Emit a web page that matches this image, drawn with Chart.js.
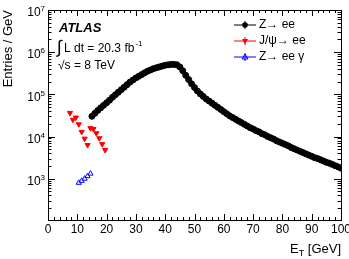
<!DOCTYPE html>
<html>
<head>
<meta charset="utf-8">
<script src="https://cdn.jsdelivr.net/npm/chart.js@4.4.1/dist/chart.umd.min.js"></script>
<style>
  html, body { margin: 0; padding: 0; background: #fff; }
  #wrap { width: 349px; height: 259px; }
</style>
</head>
<body>
<div id="wrap"><canvas id="mychart" width="349" height="259"></canvas></div>
<script>
// Z -> ee, one point per GeV from 15 to 100
const zeeEt = [15,16,17,18,19,20,21,22,23,24,25,26,27,28,29,30,31,32,33,34,35,36,37,38,39,40,
  41,42,43,44,45,46,47,48,49,50,51,52,53,54,55,56,57,58,59,60,61,62,63,64,65,66,67,68,69,70,
  71,72,73,74,75,76,77,78,79,80,81,82,83,84,85,86,87,88,89,90,91,92,93,94,95,96,97,98,99,100];
const zeeVals = [30200,35500,41700,47900,55000,63100,72400,85100,97700,112000,129000,148000,170000,
  195000,219000,245000,269000,295000,324000,355000,380000,407000,427000,447000,468000,490000,
  501000,513000,513000,501000,447000,363000,282000,224000,178000,145000,120000,102000,89100,77600,
  69200,61700,55000,49000,43700,38900,34700,30900,28200,25700,23400,21400,19500,17800,16200,15100,
  13800,12900,11700,11000,10000,9330,8710,7940,7410,6920,6460,6030,5500,5130,4790,4470,4170,3890,
  3630,3390,3160,3020,2820,2630,2450,2340,2190,2040,1910,1780];

// J/psi -> ee (two selections)
const jpsiEt = [7.5,8.5,9.5,10.5,11.5,12.5,13.5, 14.5,15.5,16.5,17.5,18.5,19.5];
const jpsiVals = [36300,25100,28200,19500,12900,8910,6310, 15800,15100,12000,9120,6610,4790];

// Z -> ee gamma
const zeegEt = [10.5,11.5,12.5,13.5,14.5];
const zeegVals = [800,890,1000,1150,1320];

const xMajor = [0,10,20,30,40,50,60,70,80,90,100];
const yMajor = [1e3,1e4,1e5,1e6,1e7];
const yExp = ['3','4','5','6','7'];

const FONT = '"Liberation Sans", Arial, Helvetica, sans-serif';

const pts = (xs, ys) => xs.map((x, i) => ({x: x, y: ys[i]}));

const atlasDecor = {
    id: 'atlasDecor',
    afterDraw: (chart) => {
        const ctx = chart.ctx;
        const a = chart.chartArea;
        const xs = chart.scales.x, ys = chart.scales.y;
        ctx.save();
        ctx.strokeStyle = '#000';
        ctx.lineWidth = 1;

        // frame
        ctx.strokeRect(Math.round(a.left) + 0.5, Math.round(a.top) + 0.5,
            Math.round(a.right - a.left), Math.round(a.bottom - a.top));

        // x ticks (bottom + top), minor every 2
        ctx.beginPath();
        for (let v = 0; v <= 100; v += 2) {
            const px = Math.round(xs.getPixelForValue(v)) + 0.5;
            const len = (v % 10 === 0) ? 6 : 3;
            ctx.moveTo(px, a.bottom); ctx.lineTo(px, a.bottom - len);
            ctx.moveTo(px, a.top); ctx.lineTo(px, a.top + len);
        }
        // y ticks (left + right), log minors
        for (let e = 2; e <= 6; e++) {
            for (let m = 1; m <= 9; m++) {
                const v = m * Math.pow(10, e);
                if (v < ys.min || v > ys.max) continue;
                const py = Math.round(ys.getPixelForValue(v)) + 0.5;
                const len = (m === 1) ? 7 : 3.5;
                ctx.moveTo(a.left, py); ctx.lineTo(a.left + len, py);
                ctx.moveTo(a.right, py); ctx.lineTo(a.right - len, py);
            }
        }
        const pTop = Math.round(ys.getPixelForValue(1e7)) + 0.5;
        ctx.moveTo(a.left, pTop); ctx.lineTo(a.left + 7, pTop);
        ctx.moveTo(a.right, pTop); ctx.lineTo(a.right - 7, pTop);
        ctx.stroke();

        ctx.fillStyle = '#000';
        // x tick labels
        ctx.font = '12px ' + FONT;
        ctx.textAlign = 'center';
        ctx.textBaseline = 'middle';
        xMajor.forEach(v => ctx.fillText(String(v), xs.getPixelForValue(v), a.bottom + 10));

        // y tick labels 10^n
        yMajor.forEach((v, i) => {
            const py = ys.getPixelForValue(v);
            ctx.font = '8px ' + FONT;
            ctx.textAlign = 'right';
            ctx.fillText(yExp[i], a.left - 3, py - 1);
            const ew = ctx.measureText(yExp[i]).width;
            ctx.font = '12px ' + FONT;
            ctx.fillText('10', a.left - 3 - ew, py + 3);
        });

        // axis titles
        ctx.font = '13px ' + FONT;
        ctx.textAlign = 'right';
        ctx.textBaseline = 'alphabetic';
        ctx.fillText('[GeV]', a.right, 253);
        const gw = ctx.measureText(' [GeV]').width;
        ctx.font = '9px ' + FONT;
        ctx.fillText('T', a.right - gw, 256);
        const tw = ctx.measureText('T').width;
        ctx.font = '13px ' + FONT;
        ctx.fillText('E', a.right - gw - tw, 253);

        ctx.save();
        ctx.translate(12, a.top);
        ctx.rotate(-Math.PI / 2);
        ctx.textAlign = 'right';
        ctx.fillText('Entries / GeV', 0, 0);
        ctx.restore();

        // ATLAS label
        ctx.textAlign = 'left';
        ctx.font = 'italic bold 13px ' + FONT;
        ctx.fillText('ATLAS', 59, 32);
        ctx.font = '18px ' + FONT;
        ctx.fillText('\u222B', 57, 53);
        ctx.font = '12px ' + FONT;
        ctx.fillText('L dt = 20.3 fb', 64, 52);
        const lw = ctx.measureText('L dt = 20.3 fb').width;
        ctx.font = '8px ' + FONT;
        ctx.fillText('-1', 64 + lw + 1, 46);
        ctx.font = '12px ' + FONT;
        ctx.fillText('\u221As = 8 TeV', 58, 69);

        // legend
        const leg = [
            {label: 'Z\u2192 ee', color: '#000', style: 'circle', fill: true},
            {label: 'J/\u03C8\u2192 ee', color: '#ff0000', style: 'down', fill: true},
            {label: 'Z\u2192 ee \u03B3', color: '#0000ff', style: 'up', fill: false}
        ];
        leg.forEach((l, i) => {
            const cy = 25 + i * 16;
            const cx = 245;
            ctx.strokeStyle = l.color;
            ctx.fillStyle = l.color;
            ctx.lineWidth = 1;
            ctx.beginPath();
            ctx.moveTo(234, cy); ctx.lineTo(256, cy);
            ctx.moveTo(cx, cy - 4); ctx.lineTo(cx, cy + 4);
            ctx.stroke();
            ctx.beginPath();
            if (l.style === 'circle') {
                ctx.arc(cx, cy, 2.8, 0, Math.PI * 2);
            } else if (l.style === 'down') {
                ctx.moveTo(cx - 3, cy - 2); ctx.lineTo(cx + 3, cy - 2); ctx.lineTo(cx, cy + 3); ctx.closePath();
            } else {
                ctx.moveTo(cx - 3, cy + 2); ctx.lineTo(cx + 3, cy + 2); ctx.lineTo(cx, cy - 3); ctx.closePath();
            }
            if (l.fill) ctx.fill(); else ctx.stroke();
            ctx.fillStyle = '#000';
            ctx.font = '12px ' + FONT;
            ctx.textAlign = 'left';
            ctx.textBaseline = 'middle';
            ctx.fillText(l.label, 259, cy);
        });
        ctx.restore();
    }
};

const bgColor = {
    id: 'bgColor',
    beforeDraw: (chart) => {
        const {ctx, width, height} = chart;
        ctx.save();
        ctx.fillStyle = 'white';
        ctx.fillRect(0, 0, width, height);
        ctx.restore();
    }
};

const options = {
    type: 'scatter',
    data: {
        datasets: [{
            label: 'Z\u2192 ee',
            data: pts(zeeEt, zeeVals),
            backgroundColor: '#000',
            borderColor: '#000',
            pointRadius: 3,
            pointStyle: 'circle'
        }, {
            label: 'J/\u03C8\u2192 ee',
            data: pts(jpsiEt, jpsiVals),
            backgroundColor: '#ff0000',
            borderColor: '#ff0000',
            pointRadius: 3,
            pointStyle: 'triangle',
            rotation: 180
        }, {
            label: 'Z\u2192 ee \u03B3',
            data: pts(zeegEt, zeegVals),
            backgroundColor: 'rgba(0,0,0,0)',
            borderColor: '#0000ff',
            borderWidth: 1,
            pointRadius: 3,
            pointStyle: 'triangle'
        }]
    },
    options: {
        responsive: false,
        animation: false,
        layout: { padding: { left: 48, right: 8, top: 10, bottom: 39 } },
        plugins: { legend: { display: false }, tooltip: { enabled: false } },
        scales: {
            x: { type: 'linear', min: 0, max: 100, display: false },
            y: { type: 'logarithmic', min: 105, max: 1e7, display: false }
        }
    },
    plugins: [bgColor, atlasDecor]
};

var ctx = document.getElementById('mychart').getContext('2d');
let chart = new Chart(ctx, options);
</script>
</body>
</html>
